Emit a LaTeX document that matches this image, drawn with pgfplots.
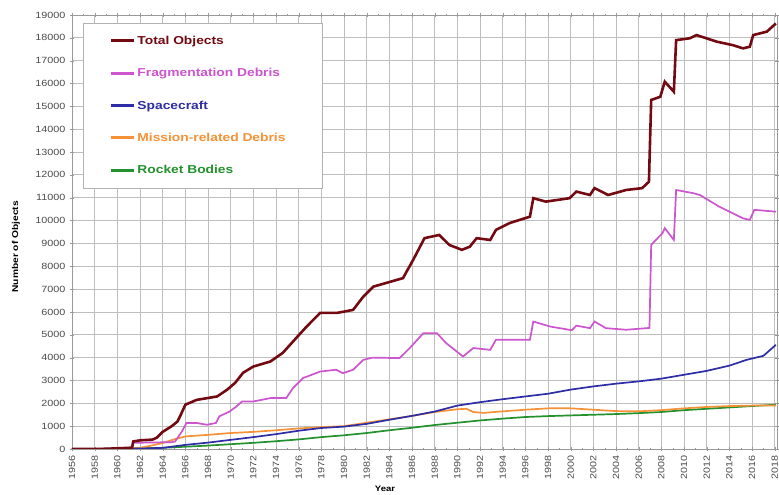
\documentclass[border=0pt]{standalone}
\usepackage{fontspec}
\setmainfont{Liberation Sans}[FakeStretch=1.2]
\usepackage{pgfplots}
\pgfplotsset{compat=1.18}

\definecolor{totc}{RGB}{115,10,18}
\definecolor{fragc}{RGB}{205,85,205}
\definecolor{scc}{RGB}{45,45,165}
\definecolor{misc}{RGB}{245,145,55}
\definecolor{rbc}{RGB}{35,145,45}
\definecolor{gridc}{RGB}{190,190,190}
\definecolor{tickc}{RGB}{75,75,75}

\begin{document}
\begin{tikzpicture}
\useasboundingbox (-72pt,-46pt) rectangle (707pt,449pt);
\begin{axis}[
  scale only axis, width=705pt, height=434pt,
  xmin=1956, xmax=2018.2, ymin=0, ymax=19000,
  xtick={1956,1958,...,2018}, ytick={0,1000,...,19000},
  minor x tick num=1,
  scaled y ticks=false,
  /pgf/number format/1000 sep={},
  /pgf/number format/assume math mode=true,
  grid=major, major grid style={gridc, line width=0.8pt},
  axis line style={gray!80}, tick style={gray!80},
  major tick length=4pt, minor tick length=2pt, tick align=center,
  ticklabel style={font=\fontsize{9}{10}\selectfont, text=tickc},
  x tick label style={rotate=90, anchor=east},
  xticklabel shift=1pt, yticklabel shift=1pt,
  xlabel={Year}, ylabel={Number of Objects},
  every axis x label/.style={at={(axis description cs:0.444,-0.083)}, anchor=north, inner sep=1pt, font=\bfseries\fontsize{8}{9}\selectfont},
  every axis y label/.style={at={(axis description cs:-0.0794,0.466)}, rotate=90, anchor=center, font=\bfseries\fontsize{8.5}{10}\selectfont},
  reverse legend,
  legend image code/.code={\draw[#1, line width=3pt] (0pt,0pt) -- (23pt,0pt);},
  legend style={at={(0.016,0.982)}, anchor=north west, draw=gray!60, fill=white,
    inner xsep=26pt, inner ysep=11pt, row sep=18.5pt,
    font=\bfseries\fontsize{11.5}{12}\selectfont, cells={anchor=west}},
]
% rocket bodies
\addplot[rbc, line width=1.7pt] coordinates {
(1956,0) (1958,5) (1960,15) (1962,30) (1964,50) (1966,100) (1968,150) (1970,210)
(1972,270) (1974,340) (1976,420) (1978,520) (1980,600) (1982,700) (1984,820)
(1986,930) (1988,1050) (1990,1150) (1992,1250) (1994,1330) (1996,1400) (1998,1440)
(2000,1470) (2002,1500) (2004,1530) (2006,1570) (2008,1620) (2010,1700) (2012,1760)
(2014,1820) (2016,1880) (2018.1,1940)};
\addlegendentry{\textcolor{rbc}{\makebox[157pt][l]{Rocket Bodies}}}
% mission-related debris
\addplot[misc, line width=1.7pt] coordinates {
(1956,0) (1960,0) (1962,50) (1963,150) (1964,260) (1965,420) (1966,550) (1968,620)
(1970,700) (1972,750) (1974,820) (1976,900) (1978,960) (1980,1000) (1982,1150)
(1984,1300) (1986,1450) (1988,1620) (1990,1740) (1990.8,1760) (1991.4,1620)
(1992.3,1580) (1994,1650) (1996,1720) (1998,1780) (2000,1780) (2002,1720)
(2004,1660) (2006,1650) (2008,1700) (2010,1780) (2012,1840) (2014,1880)
(2016,1900) (2018.1,1900)};
\addlegendentry{\textcolor{misc}{Mission-related Debris}}
% spacecraft
\addplot[scc, line width=1.7pt] coordinates {
(1956,0) (1958,2) (1962,20) (1964,50) (1966,180) (1968,280) (1970,400) (1972,520)
(1974,650) (1976,800) (1978,920) (1980,980) (1982,1100) (1984,1280) (1986,1450)
(1988,1640) (1990,1900) (1992,2050) (1994,2180) (1996,2300) (1998,2420) (2000,2600)
(2002,2740) (2004,2860) (2006,2960) (2008,3080) (2010,3250) (2012,3420) (2014,3650)
(2015.5,3900) (2017,4080) (2017.6,4340) (2018.1,4560)};
\addlegendentry{\textcolor{scc}{Spacecraft}}
% fragmentation debris
\addplot[fragc, line width=1.7pt] coordinates {
(1956,0) (1961.3,0) (1961.4,270) (1964.8,300) (1965.1,330) (1965.7,770) (1966.1,1140)
(1967,1140) (1967.9,1060) (1968.7,1140) (1969,1430) (1969.9,1640) (1970.5,1860)
(1971,2080) (1972,2080) (1973.5,2230) (1974.9,2230) (1975.5,2670) (1976.4,3110)
(1977.9,3390) (1979.3,3470) (1979.9,3320) (1980.8,3470) (1981.7,3900) (1982.5,4000)
(1984.9,3980) (1985.8,4420) (1987,5070) (1988.2,5070) (1989,4640) (1990.5,4050)
(1991.4,4420) (1992.9,4340) (1993.4,4780) (1996.4,4780) (1996.7,5580) (1998.2,5360)
(2000.1,5200) (2000.5,5400) (2001.7,5290) (2002.1,5580) (2003.1,5290) (2004.9,5220)
(2006.7,5290) (2006.95,5300) (2007.1,8940) (2008.1,9450) (2008.3,9670) (2009.1,9150)
(2009.3,11340) (2010.8,11200) (2011.4,11120) (2013.1,10610) (2015.2,10100)
(2015.8,10030) (2016.2,10470) (2018.1,10390)};
\addlegendentry{\textcolor{fragc}{Fragmentation Debris}}
% total objects
\addplot[totc, line width=2.6pt] coordinates {
(1956,0) (1957.8,2) (1959,10) (1960,30) (1961,50) (1961.3,60) (1961.4,330) (1962,380)
(1963.1,410) (1963.5,500) (1964,750) (1964.8,1000) (1965.3,1200) (1965.6,1500)
(1966,1940) (1967,2150) (1968.8,2300) (1969.7,2600) (1970.4,2900) (1971.1,3340)
(1972,3610) (1973.5,3830) (1974.6,4210) (1975.8,4870) (1976.7,5360) (1977.9,5960)
(1979.4,5960) (1980.8,6090) (1981.7,6670) (1982.6,7110) (1985.2,7480) (1986.1,8280)
(1987.1,9230) (1988.4,9370) (1989.3,8930) (1990.4,8720) (1991.1,8860) (1991.7,9230)
(1992.9,9150) (1993.4,9590) (1994.6,9890) (1996.4,10170) (1996.7,10980) (1997.8,10830)
(1999.9,10980) (2000.5,11270) (2001.7,11120) (2002.1,11420) (2003.3,11120)
(2004.9,11340) (2006.3,11420) (2006.9,11700) (2007.1,15280) (2007.9,15420)
(2008.3,16080) (2009.1,15640) (2009.3,17900) (2010.5,17980) (2011.1,18120)
(2012.9,17830) (2014.3,17680) (2015.2,17540) (2015.8,17610) (2016.1,18120)
(2017.3,18270) (2018.1,18630)};
\addlegendentry{\textcolor{totc}{Total Objects}}
\end{axis}
\end{tikzpicture}
\end{document}
